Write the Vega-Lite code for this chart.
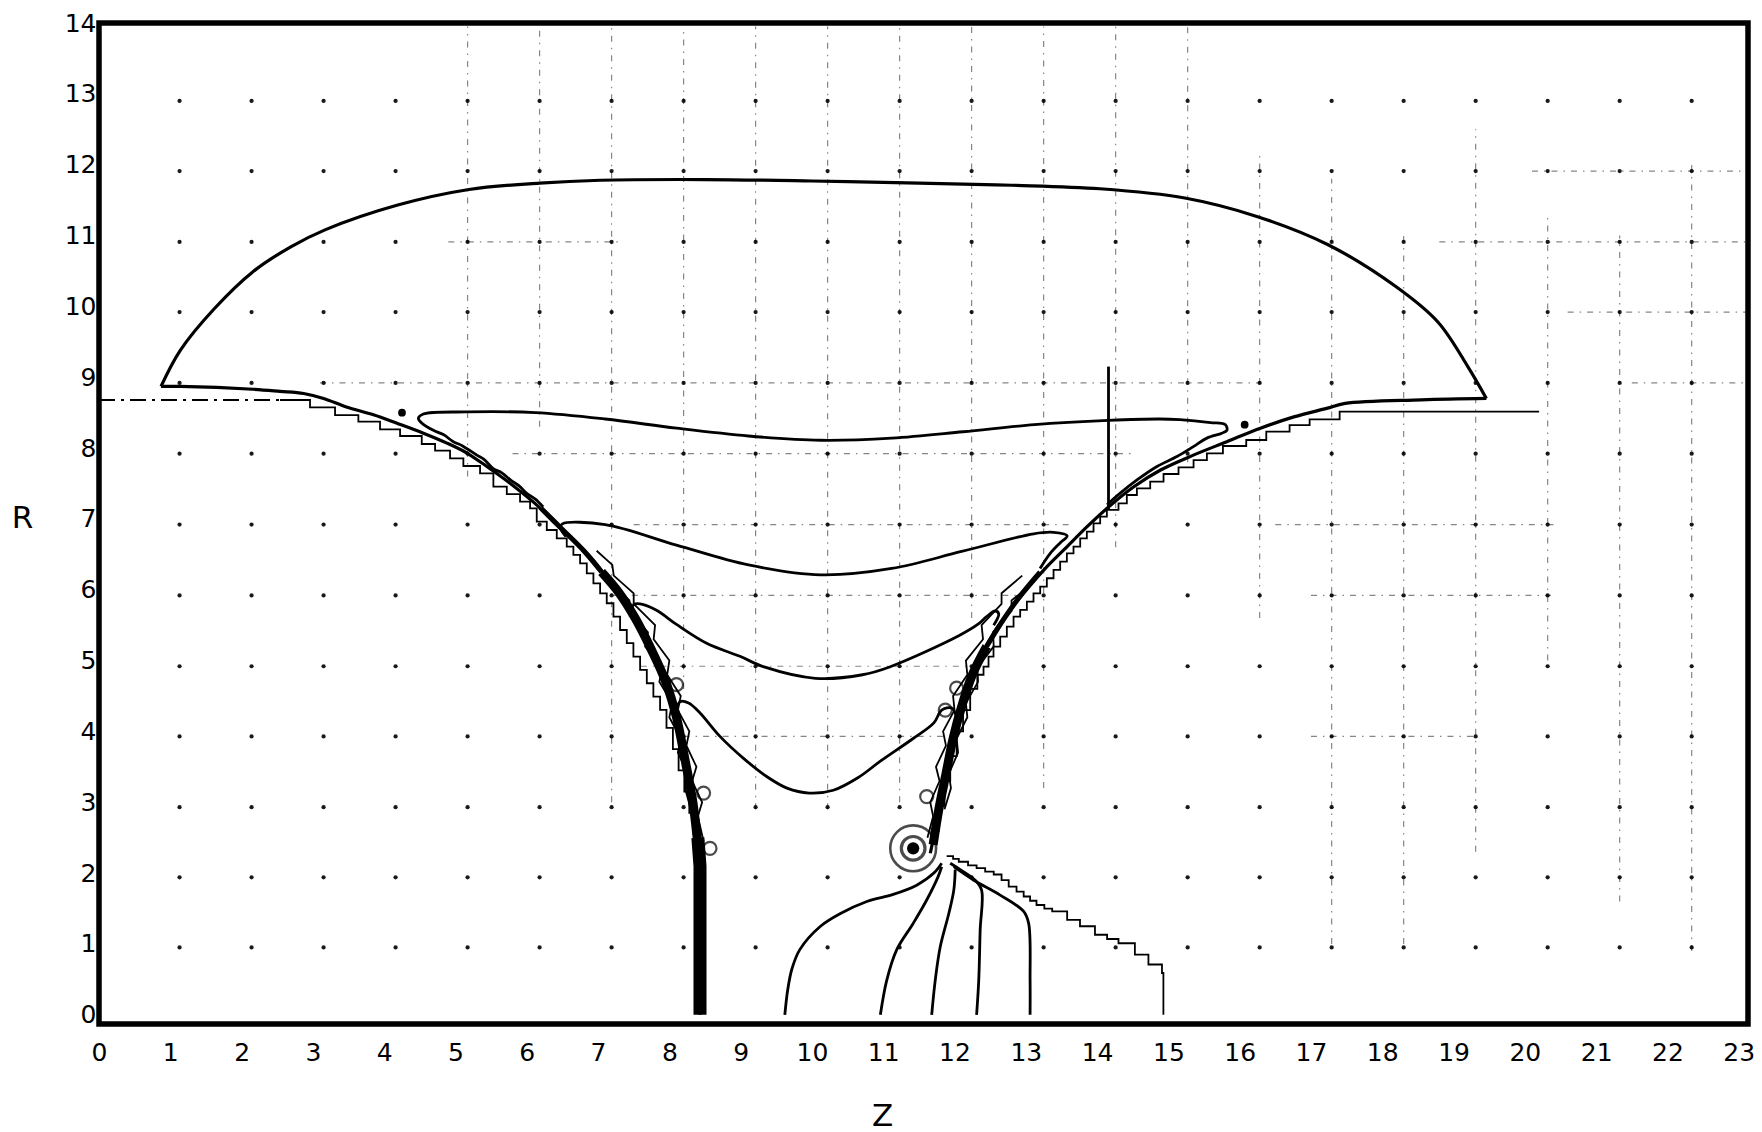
{
"$schema": "https://vega.github.io/schema/vega-lite/v6.json",
"width": 1649, "height": 1001,
"autosize": {"type": "none"},
"padding": {"left": 99, "top": 23, "right": 14, "bottom": 108},
"background": "white",
"config": {"view": {"stroke": "black", "strokeWidth": 5.5}, "font": "DejaVu Sans"},
"datasets": {
"gridcols": [
{"z":1.13,"r":[0.95,1.94,2.93,3.93,4.92,5.92,6.92,7.92,8.92,9.92,10.91,11.91,12.9]},
{"z":2.14,"r":[0.95,1.94,2.93,3.93,4.92,5.92,6.92,7.92,8.92,9.92,10.91,11.91,12.9]},
{"z":3.15,"r":[0.95,1.94,2.93,3.93,4.92,5.92,6.92,7.92,8.92,9.92,10.91,11.91,12.9]},
{"z":4.16,"r":[0.95,1.94,2.93,3.93,4.92,5.92,6.92,7.92,8.92,9.92,10.91,11.91,12.9]},
{"z":5.17,"r":[0.95,1.94,2.93,3.93,4.92,5.92,6.92,7.92,8.92,9.92,10.91,11.91,12.9]},
{"z":6.18,"r":[0.95,1.94,2.93,3.93,4.92,5.92,6.92,7.92,8.92,9.92,10.91,11.91,12.9]},
{"z":7.19,"r":[0.95,1.94,2.93,3.93,4.92,5.92,6.92,7.92,8.92,9.92,10.91,11.91,12.9]},
{"z":8.2,"r":[0.95,1.94,2.93,3.93,4.92,5.92,6.92,7.92,8.92,9.92,10.91,11.91,12.9]},
{"z":9.21,"r":[0.95,1.94,2.93,3.93,4.92,5.92,6.92,7.92,8.92,9.92,10.91,11.91,12.9]},
{"z":10.22,"r":[0.95,1.94,2.93,3.93,4.92,5.92,6.92,7.92,8.92,9.92,10.91,11.91,12.9]},
{"z":11.23,"r":[0.95,1.94,2.93,3.93,4.92,5.92,6.92,7.92,8.92,9.92,10.91,11.91,12.9]},
{"z":12.24,"r":[0.95,1.94,2.93,3.93,4.92,5.92,6.92,7.92,8.92,9.92,10.91,11.91,12.9]},
{"z":13.25,"r":[0.95,1.94,2.93,3.93,4.92,5.92,6.92,7.92,8.92,9.92,10.91,11.91,12.9]},
{"z":14.26,"r":[0.95,1.94,2.93,3.93,4.92,5.92,6.92,7.92,8.92,9.92,10.91,11.91,12.9]},
{"z":15.27,"r":[0.95,1.94,2.93,3.93,4.92,5.92,6.92,7.92,8.92,9.92,10.91,11.91,12.9]},
{"z":16.28,"r":[0.95,1.94,2.93,3.93,4.92,5.92,6.92,7.92,8.92,9.92,10.91,11.91,12.9]},
{"z":17.29,"r":[0.95,1.94,2.93,3.93,4.92,5.92,6.92,7.92,8.92,9.92,10.91,11.91,12.9]},
{"z":18.3,"r":[0.95,1.94,2.93,3.93,4.92,5.92,6.92,7.92,8.92,9.92,10.91,11.91,12.9]},
{"z":19.31,"r":[0.95,1.94,2.93,3.93,4.92,5.92,6.92,7.92,8.92,9.92,10.91,11.91,12.9]},
{"z":20.32,"r":[0.95,1.94,2.93,3.93,4.92,5.92,6.92,7.92,8.92,9.92,10.91,11.91,12.9]},
{"z":21.33,"r":[0.95,1.94,2.93,3.93,4.92,5.92,6.92,7.92,8.92,9.92,10.91,11.91,12.9]},
{"z":22.34,"r":[0.95,1.94,2.93,3.93,4.92,5.92,6.92,7.92,8.92,9.92,10.91,11.91,12.9]}
],
"dd": [
{"z":5.17,"z2":5.17,"r":7.6,"r2":13.95},
{"z":6.18,"z2":6.18,"r":8.3,"r2":13.95},
{"z":7.19,"z2":7.19,"r":3.0,"r2":13.95},
{"z":8.2,"z2":8.2,"r":4.6,"r2":13.95},
{"z":9.21,"z2":9.21,"r":2.9,"r2":13.95},
{"z":10.22,"z2":10.22,"r":2.9,"r2":13.95},
{"z":11.23,"z2":11.23,"r":3.0,"r2":13.95},
{"z":12.24,"z2":12.24,"r":5.6,"r2":13.95},
{"z":13.25,"z2":13.25,"r":3.2,"r2":13.95},
{"z":14.26,"z2":14.26,"r":6.6,"r2":13.95},
{"z":15.27,"z2":15.27,"r":7.8,"r2":13.95},
{"z":16.28,"z2":16.28,"r":5.6,"r2":12.2},
{"z":17.29,"z2":17.29,"r":1.0,"r2":11.8},
{"z":18.3,"z2":18.3,"r":1.0,"r2":11.0},
{"z":19.31,"z2":19.31,"r":2.3,"r2":12.5},
{"z":20.32,"z2":20.32,"r":5.0,"r2":11.3},
{"z":21.33,"z2":21.33,"r":1.6,"r2":11.0},
{"z":22.34,"z2":22.34,"r":0.9,"r2":12.0},
{"z":3.1,"z2":16.3,"r":8.92,"r2":8.92},
{"z":5.8,"z2":14.5,"r":7.92,"r2":7.92},
{"z":7.5,"z2":13.6,"r":6.92,"r2":6.92},
{"z":7.2,"z2":12.9,"r":5.92,"r2":5.92},
{"z":7.6,"z2":12.4,"r":4.92,"r2":4.92},
{"z":8.2,"z2":12.0,"r":3.93,"r2":3.93},
{"z":4.9,"z2":7.3,"r":10.91,"r2":10.91},
{"z":18.8,"z2":23.1,"r":10.91,"r2":10.91},
{"z":20.1,"z2":23.1,"r":11.91,"r2":11.91},
{"z":20.6,"z2":23.1,"r":9.92,"r2":9.92},
{"z":21.5,"z2":23.1,"r":8.92,"r2":8.92},
{"z":16.5,"z2":20.4,"r":6.92,"r2":6.92},
{"z":17.0,"z2":20.4,"r":5.92,"r2":5.92},
{"z":17.0,"z2":19.3,"r":3.93,"r2":3.93}
],
"lefthoriz": [{"z":0,"z2":2.54,"r":8.678,"r2":8.678}],
"curves": [
{"c":"outL","z":8.43,"r":0},{"c":"outL","z":8.43,"r":1.0},{"c":"outL","z":8.42,"r":2.09},{"c":"outL","z":8.39,"r":2.56},{"c":"outL","z":8.24,"r":3.5},{"c":"outL","z":8.1,"r":4.21},{"c":"outL","z":7.96,"r":4.77},{"c":"outL","z":7.73,"r":5.24},{"c":"outL","z":7.5,"r":5.67},{"c":"outL","z":7.22,"r":6.04},{"c":"outL","z":6.93,"r":6.42},{"c":"outL","z":6.65,"r":6.7},{"c":"outL","z":6.37,"r":6.98},{"c":"outL","z":6.09,"r":7.24},{"c":"outL","z":5.77,"r":7.5},{"c":"outL","z":5.44,"r":7.74},{"c":"outL","z":5.16,"r":7.93},{"c":"outL","z":4.88,"r":8.07},{"c":"outL","z":4.55,"r":8.21},{"c":"outL","z":4.18,"r":8.35},{"c":"outL","z":3.85,"r":8.47},{"c":"outL","z":3.47,"r":8.58},{"c":"outL","z":3.15,"r":8.7},{"c":"outL","z":2.87,"r":8.77},{"c":"outL","z":2.54,"r":8.8},{"c":"outL","z":2.16,"r":8.83},{"c":"outL","z":1.14,"r":8.87},{"c":"outL","z":0.87,"r":8.87},
{"c":"arc","z":0.87,"r":8.87},{"c":"arc","z":1.14,"r":9.38},{"c":"arc","z":1.62,"r":9.97},{"c":"arc","z":2.16,"r":10.49},{"c":"arc","z":2.69,"r":10.84},{"c":"arc","z":3.17,"r":11.08},{"c":"arc","z":4.19,"r":11.43},{"c":"arc","z":5.19,"r":11.65},{"c":"arc","z":6.18,"r":11.74},{"c":"arc","z":7.03,"r":11.78},{"c":"arc","z":8.5,"r":11.79},{"c":"arc","z":10.0,"r":11.77},{"c":"arc","z":11.5,"r":11.74},{"c":"arc","z":12.8,"r":11.71},{"c":"arc","z":14.04,"r":11.66},{"c":"arc","z":15.23,"r":11.53},{"c":"arc","z":16.24,"r":11.27},{"c":"arc","z":17.24,"r":10.87},{"c":"arc","z":18.19,"r":10.28},{"c":"arc","z":18.78,"r":9.78},{"c":"arc","z":19.2,"r":9.15},{"c":"arc","z":19.46,"r":8.7},
{"c":"outR","z":19.46,"r":8.7},{"c":"outR","z":18.55,"r":8.68},{"c":"outR","z":17.48,"r":8.63},{"c":"outR","z":17.22,"r":8.56},{"c":"outR","z":16.76,"r":8.44},{"c":"outR","z":16.29,"r":8.28},{"c":"outR","z":15.82,"r":8.09},{"c":"outR","z":15.35,"r":7.9},{"c":"outR","z":14.89,"r":7.69},{"c":"outR","z":14.51,"r":7.45},{"c":"outR","z":14.14,"r":7.15},{"c":"outR","z":13.86,"r":6.89},{"c":"outR","z":13.58,"r":6.61},{"c":"outR","z":13.3,"r":6.33},{"c":"outR","z":13.01,"r":6.0},{"c":"outR","z":12.78,"r":5.71},{"c":"outR","z":12.55,"r":5.39},{"c":"outR","z":12.31,"r":4.91},{"c":"outR","z":12.13,"r":4.4},{"c":"outR","z":11.94,"r":3.69},{"c":"outR","z":11.8,"r":2.99},{"c":"outR","z":11.71,"r":2.52},{"c":"outR","z":11.66,"r":2.28},
{"c":"A","z":6.23,"r":7.17},{"c":"A","z":6.12,"r":7.28},{"c":"A","z":6.0,"r":7.36},{"c":"A","z":5.9,"r":7.46},{"c":"A","z":5.77,"r":7.55},{"c":"A","z":5.65,"r":7.65},{"c":"A","z":5.53,"r":7.71},{"c":"A","z":5.4,"r":7.84},{"c":"A","z":5.3,"r":7.9},{"c":"A","z":5.1,"r":8.03},{"c":"A","z":4.97,"r":8.09},{"c":"A","z":4.83,"r":8.19},{"c":"A","z":4.69,"r":8.25},{"c":"A","z":4.53,"r":8.35},{"c":"A","z":4.48,"r":8.42},{"c":"A","z":4.55,"r":8.48},{"c":"A","z":5.16,"r":8.51},{"c":"A","z":6.12,"r":8.5},{"c":"A","z":7.1,"r":8.41},{"c":"A","z":8.1,"r":8.28},{"c":"A","z":9.11,"r":8.17},{"c":"A","z":10.12,"r":8.11},{"c":"A","z":11.12,"r":8.14},{"c":"A","z":12.12,"r":8.23},{"c":"A","z":13.12,"r":8.33},{"c":"A","z":14.16,"r":8.39},{"c":"A","z":14.88,"r":8.41},{"c":"A","z":15.16,"r":8.4},{"c":"A","z":15.59,"r":8.36},{"c":"A","z":15.8,"r":8.33},{"c":"A","z":15.82,"r":8.25},{"c":"A","z":15.75,"r":8.21},{"c":"A","z":15.54,"r":8.14},{"c":"A","z":15.35,"r":8.02},{"c":"A","z":15.12,"r":7.88},{"c":"A","z":14.84,"r":7.74},{"c":"A","z":14.56,"r":7.55},{"c":"A","z":14.32,"r":7.36},{"c":"A","z":14.14,"r":7.2},
{"c":"B","z":6.55,"r":6.75},{"c":"B","z":6.47,"r":6.88},{"c":"B","z":6.5,"r":6.93},{"c":"B","z":7.1,"r":6.92},{"c":"B","z":8.1,"r":6.63},{"c":"B","z":9.11,"r":6.35},{"c":"B","z":10.12,"r":6.21},{"c":"B","z":11.12,"r":6.3},{"c":"B","z":12.1,"r":6.54},{"c":"B","z":13.11,"r":6.79},{"c":"B","z":13.39,"r":6.81},{"c":"B","z":13.58,"r":6.76},{"c":"B","z":13.48,"r":6.66},{"c":"B","z":13.34,"r":6.51},{"c":"B","z":13.2,"r":6.3},
{"c":"C","z":7.45,"r":5.62},{"c":"C","z":7.5,"r":5.79},{"c":"C","z":7.59,"r":5.8},{"c":"C","z":7.82,"r":5.71},{"c":"C","z":8.1,"r":5.51},{"c":"C","z":8.53,"r":5.24},{"c":"C","z":8.99,"r":5.06},{"c":"C","z":9.33,"r":4.91},{"c":"C","z":10.05,"r":4.75},{"c":"C","z":10.71,"r":4.8},{"c":"C","z":11.09,"r":4.91},{"c":"C","z":12.06,"r":5.35},{"c":"C","z":12.34,"r":5.52},{"c":"C","z":12.45,"r":5.62},{"c":"C","z":12.57,"r":5.7},{"c":"C","z":12.62,"r":5.66},{"c":"C","z":12.55,"r":5.5},
{"c":"D","z":8.1,"r":4.3},{"c":"D","z":8.15,"r":4.42},{"c":"D","z":8.27,"r":4.4},{"c":"D","z":8.43,"r":4.26},{"c":"D","z":8.71,"r":3.93},{"c":"D","z":9.04,"r":3.62},{"c":"D","z":9.37,"r":3.36},{"c":"D","z":9.65,"r":3.2},{"c":"D","z":9.96,"r":3.13},{"c":"D","z":10.3,"r":3.17},{"c":"D","z":10.65,"r":3.35},{"c":"D","z":10.96,"r":3.58},{"c":"D","z":11.42,"r":3.9},{"c":"D","z":11.71,"r":4.12},{"c":"D","z":11.82,"r":4.3},{"c":"D","z":11.96,"r":4.33},{"c":"D","z":12.03,"r":4.2},
{"c":"F1","z":9.62,"r":0},{"c":"F1","z":9.66,"r":0.35},{"c":"F1","z":9.72,"r":0.65},{"c":"F1","z":9.83,"r":0.92},{"c":"F1","z":10.12,"r":1.25},{"c":"F1","z":10.4,"r":1.43},{"c":"F1","z":10.77,"r":1.6},{"c":"F1","z":11.14,"r":1.7},{"c":"F1","z":11.47,"r":1.83},{"c":"F1","z":11.71,"r":2.0},{"c":"F1","z":11.82,"r":2.14},
{"c":"F2","z":10.96,"r":0},{"c":"F2","z":11.05,"r":0.49},{"c":"F2","z":11.19,"r":0.92},{"c":"F2","z":11.42,"r":1.29},{"c":"F2","z":11.61,"r":1.62},{"c":"F2","z":11.77,"r":1.95},{"c":"F2","z":11.82,"r":2.09},
{"c":"F3","z":11.68,"r":0},{"c":"F3","z":11.73,"r":0.49},{"c":"F3","z":11.8,"r":0.96},{"c":"F3","z":11.92,"r":1.43},{"c":"F3","z":11.99,"r":1.76},{"c":"F3","z":12.01,"r":2.05},
{"c":"F4","z":12.31,"r":0},{"c":"F4","z":12.34,"r":0.49},{"c":"F4","z":12.36,"r":1.2},{"c":"F4","z":12.38,"r":1.76},{"c":"F4","z":12.29,"r":1.9},{"c":"F4","z":12.08,"r":2.05},{"c":"F4","z":11.94,"r":2.14},
{"c":"F5","z":13.06,"r":0},{"c":"F5","z":13.06,"r":0.49},{"c":"F5","z":13.04,"r":1.29},{"c":"F5","z":12.97,"r":1.46},{"c":"F5","z":12.64,"r":1.69},{"c":"F5","z":12.27,"r":1.9},{"c":"F5","z":11.99,"r":2.09},
{"c":"VL","z":14.16,"r":9.15},{"c":"VL","z":14.16,"r":7.13}
],
"walls": [
{"c":"lw","z":8.43,"r":0},{"c":"lw","z":8.43,"r":2.1},{"c":"lw","z":8.4,"r":2.5},
{"c":"lb","z":8.41,"r":2.3},{"c":"lb","z":8.33,"r":3.0},{"c":"lb","z":8.22,"r":3.6},{"c":"lb","z":8.1,"r":4.2},{"c":"lb","z":7.95,"r":4.7},{"c":"lb","z":7.75,"r":5.15},{"c":"lb","z":7.52,"r":5.6},{"c":"lb","z":7.3,"r":5.95},{"c":"lb","z":7.05,"r":6.25},
{"c":"lb2","z":7.05,"r":6.25},{"c":"lb2","z":6.8,"r":6.55},{"c":"lb2","z":6.5,"r":6.85},{"c":"lb2","z":6.2,"r":7.15},
{"c":"rb","z":11.7,"r":2.4},{"c":"rb","z":11.78,"r":2.9},{"c":"rb","z":11.88,"r":3.4},{"c":"rb","z":11.98,"r":3.9},{"c":"rb","z":12.1,"r":4.35},{"c":"rb","z":12.25,"r":4.8},{"c":"rb","z":12.45,"r":5.2},
{"c":"rb2","z":12.45,"r":5.2},{"c":"rb2","z":12.7,"r":5.6},{"c":"rb2","z":12.95,"r":5.95},{"c":"rb2","z":13.2,"r":6.25}
],
"zig": [
{"c":"lz","z":8.48,"r":2.45},{"c":"lz","z":8.4,"r":2.8},{"c":"lz","z":8.46,"r":3.0},{"c":"lz","z":8.32,"r":3.3},{"c":"lz","z":8.38,"r":3.5},{"c":"lz","z":8.24,"r":3.8},{"c":"lz","z":8.28,"r":4.0},{"c":"lz","z":8.12,"r":4.3},{"c":"lz","z":8.16,"r":4.5},{"c":"lz","z":7.97,"r":4.8},{"c":"lz","z":8.0,"r":5.0},{"c":"lz","z":7.78,"r":5.3},{"c":"lz","z":7.8,"r":5.5},{"c":"lz","z":7.5,"r":5.8},{"c":"lz","z":7.5,"r":5.95},{"c":"lz","z":7.22,"r":6.2},{"c":"lz","z":7.2,"r":6.35},{"c":"lz","z":6.98,"r":6.55},
{"c":"lz2","z":8.3,"r":2.9},{"c":"lz2","z":8.22,"r":3.2},{"c":"lz2","z":8.26,"r":3.4},{"c":"lz2","z":8.12,"r":3.7},{"c":"lz2","z":8.16,"r":3.9},{"c":"lz2","z":8.0,"r":4.2},{"c":"lz2","z":8.04,"r":4.4},{"c":"lz2","z":7.86,"r":4.7},{"c":"lz2","z":7.9,"r":4.9},{"c":"lz2","z":7.66,"r":5.2},{"c":"lz2","z":7.7,"r":5.4},{"c":"lz2","z":7.42,"r":5.7},{"c":"lz2","z":7.44,"r":5.85},{"c":"lz2","z":7.15,"r":6.1},
{"c":"rz","z":11.62,"r":2.5},{"c":"rz","z":11.7,"r":2.8},{"c":"rz","z":11.66,"r":3.0},{"c":"rz","z":11.79,"r":3.3},{"c":"rz","z":11.74,"r":3.5},{"c":"rz","z":11.88,"r":3.8},{"c":"rz","z":11.84,"r":4.0},{"c":"rz","z":12.0,"r":4.3},{"c":"rz","z":11.98,"r":4.5},{"c":"rz","z":12.18,"r":4.8},{"c":"rz","z":12.16,"r":5.0},{"c":"rz","z":12.4,"r":5.3},{"c":"rz","z":12.38,"r":5.5},{"c":"rz","z":12.66,"r":5.8},{"c":"rz","z":12.66,"r":5.95},{"c":"rz","z":12.95,"r":6.2},
{"c":"rz2","z":11.86,"r":2.9},{"c":"rz2","z":11.95,"r":3.2},{"c":"rz2","z":11.92,"r":3.4},{"c":"rz2","z":12.05,"r":3.7},{"c":"rz2","z":12.03,"r":3.9},{"c":"rz2","z":12.18,"r":4.2},{"c":"rz2","z":12.16,"r":4.4},{"c":"rz2","z":12.33,"r":4.7},{"c":"rz2","z":12.32,"r":4.9},{"c":"rz2","z":12.55,"r":5.2},{"c":"rz2","z":12.54,"r":5.4},{"c":"rz2","z":12.8,"r":5.7},{"c":"rz2","z":12.8,"r":5.85},{"c":"rz2","z":13.05,"r":6.05}
],
"steps": [
{"c":"ls","z":2.539,"r":8.678},{"c":"ls","z":2.96,"r":8.574},{"c":"ls","z":3.311,"r":8.466},{"c":"ls","z":3.638,"r":8.372},{"c":"ls","z":3.942,"r":8.264},{"c":"ls","z":4.223,"r":8.17},{"c":"ls","z":4.527,"r":8.057},{"c":"ls","z":4.714,"r":7.963},{"c":"ls","z":4.924,"r":7.855},{"c":"ls","z":5.111,"r":7.747},{"c":"ls","z":5.345,"r":7.643},{"c":"ls","z":5.532,"r":7.455},{"c":"ls","z":5.72,"r":7.351},{"c":"ls","z":5.906,"r":7.243},{"c":"ls","z":6.047,"r":7.149},{"c":"ls","z":6.14,"r":6.961},{"c":"ls","z":6.281,"r":6.843},{"c":"ls","z":6.421,"r":6.726},{"c":"ls","z":6.561,"r":6.608},{"c":"ls","z":6.654,"r":6.491},{"c":"ls","z":6.748,"r":6.373},{"c":"ls","z":6.842,"r":6.232},{"c":"ls","z":6.935,"r":6.091},{"c":"ls","z":7.029,"r":5.95},{"c":"ls","z":7.122,"r":5.809},{"c":"ls","z":7.216,"r":5.62},{"c":"ls","z":7.309,"r":5.432},{"c":"ls","z":7.403,"r":5.245},{"c":"ls","z":7.496,"r":5.056},{"c":"ls","z":7.59,"r":4.868},{"c":"ls","z":7.684,"r":4.68},{"c":"ls","z":7.776,"r":4.492},{"c":"ls","z":7.87,"r":4.304},{"c":"ls","z":7.96,"r":4.05},{"c":"ls","z":8.05,"r":3.75},{"c":"ls","z":8.13,"r":3.45},{"c":"ls","z":8.21,"r":3.15},{"c":"ls","z":8.28,"r":2.85},{"c":"ls","z":8.34,"r":2.55},{"c":"ls","z":8.38,"r":2.3},
{"c":"rs","z":11.72,"r":2.6},{"c":"rs","z":11.78,"r":2.95},{"c":"rs","z":11.86,"r":3.3},{"c":"rs","z":11.94,"r":3.65},{"c":"rs","z":12.03,"r":4.0},{"c":"rs","z":12.12,"r":4.3},{"c":"rs","z":12.22,"r":4.6},{"c":"rs","z":12.32,"r":4.8},{"c":"rs","z":12.407,"r":4.915},{"c":"rs","z":12.477,"r":5.056},{"c":"rs","z":12.547,"r":5.197},{"c":"rs","z":12.641,"r":5.338},{"c":"rs","z":12.734,"r":5.48},{"c":"rs","z":12.828,"r":5.621},{"c":"rs","z":12.921,"r":5.715},{"c":"rs","z":13.015,"r":5.832},{"c":"rs","z":13.108,"r":5.95},{"c":"rs","z":13.202,"r":6.044},{"c":"rs","z":13.295,"r":6.162},{"c":"rs","z":13.389,"r":6.279},{"c":"rs","z":13.482,"r":6.397},{"c":"rs","z":13.576,"r":6.514},{"c":"rs","z":13.669,"r":6.608},{"c":"rs","z":13.763,"r":6.726},{"c":"rs","z":13.856,"r":6.82},{"c":"rs","z":13.95,"r":6.938},{"c":"rs","z":14.043,"r":7.032},{"c":"rs","z":14.137,"r":7.126},{"c":"rs","z":14.3,"r":7.22},{"c":"rs","z":14.417,"r":7.337},{"c":"rs","z":14.558,"r":7.431},{"c":"rs","z":14.745,"r":7.526},{"c":"rs","z":14.932,"r":7.634},{"c":"rs","z":15.142,"r":7.728},{"c":"rs","z":15.353,"r":7.831},{"c":"rs","z":15.54,"r":7.926},{"c":"rs","z":15.765,"r":8.029},{"c":"rs","z":16.092,"r":8.114},{"c":"rs","z":16.373,"r":8.231},{"c":"rs","z":16.7,"r":8.325},{"c":"rs","z":16.981,"r":8.405},{"c":"rs","z":17.402,"r":8.513},{"c":"rs","z":20.2,"r":8.513},
{"c":"bs","z":11.89,"r":2.24},{"c":"bs","z":11.98,"r":2.2},{"c":"bs","z":12.06,"r":2.16},{"c":"bs","z":12.19,"r":2.11},{"c":"bs","z":12.31,"r":2.07},{"c":"bs","z":12.43,"r":2.02},{"c":"bs","z":12.55,"r":1.98},{"c":"bs","z":12.66,"r":1.9},{"c":"bs","z":12.76,"r":1.81},{"c":"bs","z":12.87,"r":1.74},{"c":"bs","z":12.97,"r":1.67},{"c":"bs","z":13.06,"r":1.61},{"c":"bs","z":13.15,"r":1.55},{"c":"bs","z":13.26,"r":1.5},{"c":"bs","z":13.37,"r":1.46},{"c":"bs","z":13.58,"r":1.34},{"c":"bs","z":13.76,"r":1.25},{"c":"bs","z":13.97,"r":1.13},{"c":"bs","z":14.14,"r":1.07},{"c":"bs","z":14.3,"r":1.01},{"c":"bs","z":14.53,"r":0.85},{"c":"bs","z":14.72,"r":0.71},{"c":"bs","z":14.91,"r":0.59},{"c":"bs","z":14.93,"r":0}
],
"loops": [
{"k":"bull","z":11.42,"r":2.35},
{"k":"small","z":8.57,"r":2.35},{"k":"small","z":8.48,"r":3.13},{"k":"small","z":8.1,"r":4.66},
{"k":"small","z":11.61,"r":3.08},{"k":"small","z":11.87,"r":4.3},{"k":"small","z":12.03,"r":4.61},
{"k":"blob","z":4.25,"r":8.5},{"k":"blob","z":16.07,"r":8.33}
]
},
"encoding": {
"x": {"field": "z", "type": "quantitative",
 "scale": {"domain": [0, 23.13], "nice": false, "zero": false},
 "axis": {"values": [0,1,2,3,4,5,6,7,8,9,10,11,12,13,14,15,16,17,18,19,20,21,22,23], "format": "d",
  "title": "Z", "titleFont": "DejaVu Sans", "titleFontSize": 31, "titleFontWeight": "normal", "titleColor": "black",
  "titleX": 783, "titleY": 92, "titleAlign": "center", "titleBaseline": "middle",
  "labelFont": "DejaVu Sans", "labelFontSize": 25, "labelColor": "black", "labelPadding": 16,
  "labelOverlap": false, "labelFlush": false, "ticks": false, "domain": false, "grid": false}},
"y": {"field": "r", "type": "quantitative",
 "scale": {"domain": [-0.13, 14], "nice": false, "zero": false},
 "axis": {"values": [0,1,2,3,4,5,6,7,8,9,10,11,12,13,14], "format": "d",
  "title": "R", "titleFont": "DejaVu Sans", "titleFontSize": 31, "titleFontWeight": "normal", "titleColor": "black",
  "titleAngle": 0, "titleX": -77, "titleY": 495, "titleAlign": "center", "titleBaseline": "middle",
  "labelFont": "DejaVu Sans", "labelFontSize": 25, "labelColor": "black", "labelPadding": 3,
  "labelOverlap": false, "labelFlush": false, "ticks": false, "domain": false, "grid": false}}
},
"layer": [
{"data": {"name": "dd"}, "mark": {"type": "rule", "color": "#222", "strokeWidth": 1.2, "opacity": 0.55, "strokeDash": [6, 6, 1.5, 6]},
 "encoding": {"x2": {"field": "z2"}, "y2": {"field": "r2"}}},
{"data": {"name": "lefthoriz"}, "mark": {"type": "rule", "color": "black", "strokeWidth": 1.8, "strokeDash": [16, 6, 3, 6]},
 "encoding": {"x2": {"field": "z2"}, "y2": {"field": "r2"}}},
{"data": {"name": "gridcols"}, "transform": [{"flatten": ["r"]}],
 "mark": {"type": "point", "filled": true, "color": "black", "size": 18, "opacity": 0.9}},
{"data": {"name": "steps"}, "mark": {"type": "line", "interpolate": "step-after", "color": "black", "strokeWidth": 1.8},
 "encoding": {"detail": {"field": "c"}, "order": {"value": null}}},
{"data": {"name": "zig"}, "mark": {"type": "line", "color": "black", "strokeWidth": 1.8},
 "encoding": {"detail": {"field": "c"}, "order": {"value": null}}},
{"data": {"name": "curves"}, "transform": [{"filter": {"field": "c", "oneOf": ["A","B","C","D","F1","F2","F3","F4","F5","VL"]}}],
 "mark": {"type": "line", "color": "black", "strokeWidth": 2.8, "interpolate": "catmull-rom", "strokeJoin": "round"},
 "encoding": {"detail": {"field": "c"}, "order": {"value": null}}},
{"data": {"name": "curves"}, "transform": [{"filter": {"field": "c", "oneOf": ["outL","arc","outR"]}}],
 "mark": {"type": "line", "color": "black", "strokeWidth": 3.2, "interpolate": "catmull-rom", "strokeJoin": "round"},
 "encoding": {"detail": {"field": "c"}, "order": {"value": null}}},
{"data": {"name": "walls"}, "transform": [{"filter": {"field": "c", "equal": "lw"}}],
 "mark": {"type": "line", "color": "black", "strokeWidth": 13},
 "encoding": {"detail": {"field": "c"}, "order": {"value": null}}},
{"data": {"name": "walls"}, "transform": [{"filter": {"field": "c", "oneOf": ["lb","rb"]}}],
 "mark": {"type": "line", "color": "black", "strokeWidth": 9, "interpolate": "catmull-rom", "strokeJoin": "round"},
 "encoding": {"detail": {"field": "c"}, "order": {"value": null}}},
{"data": {"name": "walls"}, "transform": [{"filter": {"field": "c", "oneOf": ["lb2","rb2"]}}],
 "mark": {"type": "line", "color": "black", "strokeWidth": 5, "interpolate": "catmull-rom", "strokeJoin": "round"},
 "encoding": {"detail": {"field": "c"}, "order": {"value": null}}},
{"data": {"name": "loops"}, "transform": [{"filter": {"field": "k", "equal": "bull"}}],
 "mark": {"type": "point", "shape": "circle", "filled": false, "color": "black", "strokeWidth": 2.6, "size": 2100}},
{"data": {"name": "loops"}, "transform": [{"filter": {"field": "k", "equal": "bull"}}],
 "mark": {"type": "point", "shape": "circle", "filled": false, "color": "black", "strokeWidth": 3.2, "size": 560}},
{"data": {"name": "loops"}, "transform": [{"filter": {"field": "k", "equal": "bull"}}],
 "mark": {"type": "point", "shape": "circle", "filled": true, "color": "black", "opacity": 1, "size": 150}},
{"data": {"name": "loops"}, "transform": [{"filter": {"field": "k", "equal": "small"}}],
 "mark": {"type": "point", "shape": "circle", "filled": false, "color": "black", "strokeWidth": 2.2, "size": 170}},
{"data": {"name": "loops"}, "transform": [{"filter": {"field": "k", "equal": "blob"}}],
 "mark": {"type": "point", "shape": "circle", "filled": true, "color": "black", "opacity": 1, "size": 60}}
]
}
